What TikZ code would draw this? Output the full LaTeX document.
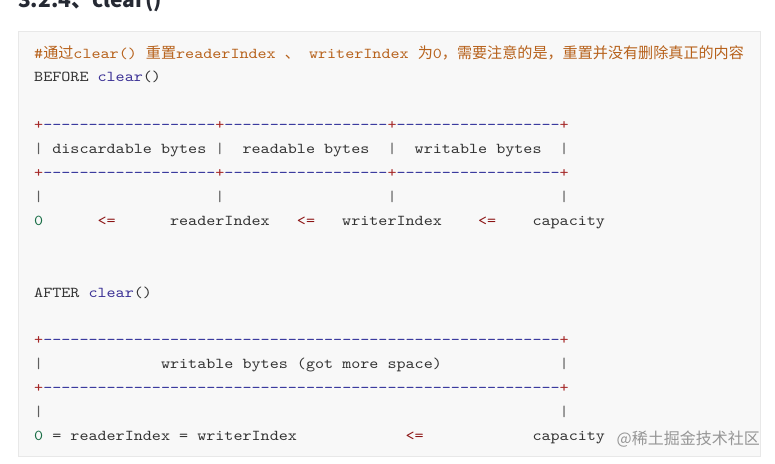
\documentclass[tikz,border=0pt]{standalone}
\usepackage{fontspec}
\setmonofont{lmmono10-regular}[Extension=.otf, FakeStretch=1.1429]
\newfontfamily\cjk{Noto Sans CJK SC}
\ExplSyntaxOn
\cs_new:Npn \rep #1#2 { \prg_replicate:nn {#1} {#2} }
\ExplSyntaxOff
\definecolor{cmt}{RGB}{183,98,28}
\definecolor{kw}{RGB}{60,50,150}
\definecolor{txt}{RGB}{51,51,51}
\definecolor{plus}{RGB}{165,40,40}
\definecolor{dash}{RGB}{40,40,150}
\definecolor{bar}{RGB}{95,95,95}
\definecolor{num}{RGB}{25,110,70}
\definecolor{op}{RGB}{140,20,20}
\definecolor{boxbg}{RGB}{248,248,248}
\definecolor{boxln}{RGB}{232,232,232}
\definecolor{head}{RGB}{37,41,51}
\definecolor{wm}{RGB}{150,150,150}
\newlength\cwd
\setlength\cwd{9.06pt}
\newcommand\gap[1]{\hspace*{#1\cwd}}
\newcommand\pl{\textcolor{plus}{+}}
\newcommand\dsh[1]{\textcolor{dash}{\rep{#1}{-}}}
\newcommand\br{\textcolor{bar}{|}}
\newcommand\nm[1]{\textcolor{num}{#1}}
\newcommand\op{\textcolor{op}{<=}}
\newcommand\kw[1]{\textcolor{kw}{#1}}
\begin{document}
\begin{tikzpicture}[x=1pt,y=-1pt,
  codeline/.style={anchor=base west, inner sep=0pt, text=txt,
    font=\ttfamily\fontsize{15.1}{18}\selectfont}]
\useasboundingbox (0,0) rectangle (775,463);
\fill[white] (0,0) rectangle (775,463);
\fill[boxbg, draw=boxln, line width=0.8pt] (18,31) rectangle (760,456);
\begin{scope}
\clip (0,0) rectangle (775,463);
\node[anchor=base west, inner sep=0pt, text=head,
  font=\cjk\bfseries\fontsize{21}{24}\selectfont] (title) at (18,7) {3.2.4、clear()};
\end{scope}
% BEFORE
\node[codeline] (l1) at (34,58) {\textcolor{cmt}{\#{\cjk 通过}clear() {\cjk 重置}readerIndex {\cjk 、} writerIndex {\cjk 为}0{\cjk ，需要注意的是，重置并没有删除真正的内容}}};
\node[codeline] (l2) at (34,81.9) {BEFORE \kw{clear}()};
\node[codeline] (l4) at (34,129.7) {\pl\dsh{19}\pl\dsh{18}\pl\dsh{18}\pl};
\node[codeline] (l5) at (34,153.6) {\br\gap{1}discardable bytes\gap{1}\br\gap{2}readable bytes\gap{2}\br\gap{2}writable bytes\gap{2}\br};
\node[codeline] (l6) at (34,177.5) {\pl\dsh{19}\pl\dsh{18}\pl\dsh{18}\pl};
\node[codeline] (l7) at (34,201.4) {\br\gap{19}\br\gap{18}\br\gap{18}\br};
\node[codeline] (l8) at (34,225.3) {\nm{0}\gap{6}\op\gap{6}readerIndex\gap{3}\op\gap{3}writerIndex\gap{4}\op\gap{4}capacity};
% AFTER
\node[codeline] (l11) at (34,297) {AFTER \kw{clear}()};
\node[codeline] (l13) at (34,344.8) {\pl\dsh{57}\pl};
\node[codeline] (l14) at (34,368.7) {\br\gap{13}writable bytes (got more space)\gap{13}\br};
\node[codeline] (l15) at (34,392.6) {\pl\dsh{57}\pl};
\node[codeline] (l16) at (34,416.5) {\br\gap{57}\br};
\node[codeline] (l17) at (34,440.4) {\nm{0} = readerIndex = writerIndex\gap{12}\op\gap{12}capacity};
% watermark
\node[anchor=base east, inner sep=0pt, text=wm,
  font=\cjk\fontsize{16}{18}\selectfont] (wmark) at (760,444) {@稀土掘金技术社区};
\end{tikzpicture}
\end{document}
